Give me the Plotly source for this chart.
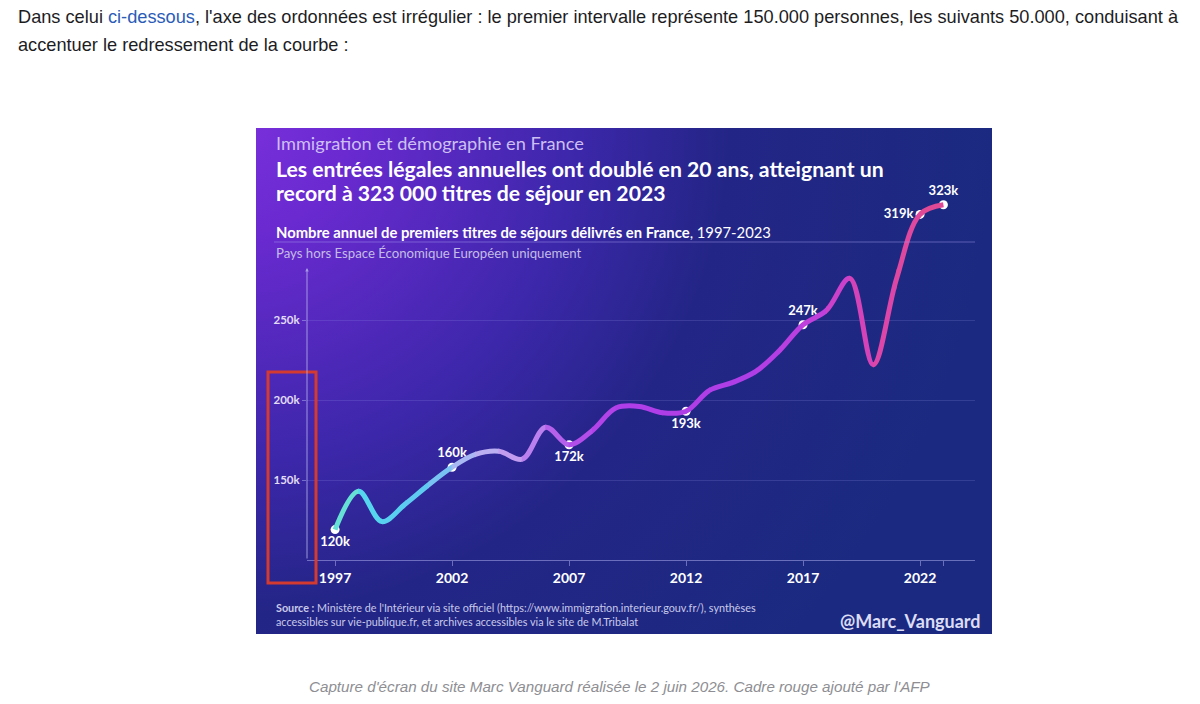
import plotly.graph_objects as go
from plotly.colors import sample_colorscale

# ---------------- data ----------------
years = [1997, 1998, 1999, 2000, 2001, 2002, 2003, 2004, 2005, 2006, 2007, 2008, 2009,
         2010, 2011, 2012, 2013, 2014, 2015, 2016, 2017, 2018, 2019, 2020, 2021, 2022, 2023]
values_k = [119, 143, 124, 135, 147, 158, 166, 168, 163, 183, 172, 181, 195,
            196, 192, 193, 206, 211, 218, 231, 247, 256, 276, 222, 276, 316, 322]
label_years = [1997, 2002, 2007, 2012, 2017, 2022, 2023]
label_texts = ["120k", "160k", "172k", "193k", "247k", "319k", "323k"]
label_pos = ["bottom center", "top center", "bottom center", "bottom center",
             "top center", "middle left", "top center"]
x_tick_years = [1997, 2002, 2007, 2012, 2017, 2022, 2023]
x_tick_text = ["1997", "2002", "2007", "2012", "2017", "2022", ""]
y_tick_vals = [150, 200, 250]
y_tick_text = ["150k", "200k", "250k"]

W, H = 1200, 704
def xp(px): return px / W
def yp(py): return 1 - py / H

# plot geometry (pixels)
AX_L, AX_R = 307, 975
AX_B, AX_T = 560, 180
Y_ARROW_TOP = 268
X_RANGE = [1995.80, 2024.35]
Y_RANGE = [100, 337.5]

fig = go.Figure()

# ---------- background panel with radial glow ----------
P_L, P_R, P_T, P_B = 256, 992, 128, 634
cx, cy, R = 235, 120, 760
fig.add_trace(go.Scatter(
    x=[cx - R, cx + R, cx + R, cx - R, cx - R],
    y=[cy - R, cy - R, cy + R, cy + R, cy - R],
    fill="toself", mode="lines", line=dict(width=0),
    fillgradient=dict(type="radial", colorscale=[
        [0.0, "#7a30dc"], [0.15, "#6a2ad0"], [0.45, "#3c27aa"],
        [0.65, "#232586"], [1.0, "#1b2a80"]]),
    hoverinfo="skip", showlegend=False, xaxis="x", yaxis="y"))

# ---------- gradient-coloured spline line (clipped per year band) ----------
stops = [(1997, "#6fe3c8"), (1998.5, "#55d6ee"), (2001, "#62c8f2"), (2002.5, "#a8b8f2"),
         (2004, "#c4aaf0"), (2005.5, "#bb80ee"), (2007, "#b452ea"), (2009, "#b03ee8"),
         (2015, "#b03ee6"), (2017.5, "#c040dc"), (2019, "#d042c0"), (2020.5, "#dc46a8"),
         (2023, "#e04a90")]
cs = [[(y - 1997) / 26, c] for y, c in stops]

def x2px(x):
    return AX_L + (x - X_RANGE[0]) / (X_RANGE[1] - X_RANGE[0]) * (AX_R - AX_L)

seg_axes = {}
n = len(years) - 1
for i in range(n):
    a = X_RANGE[0] if i == 0 else years[i]
    b = X_RANGE[1] if i == n - 1 else years[i + 1]
    eps = 0.02
    a2, b2 = a - eps, b + eps
    col = sample_colorscale(cs, [min(max(((years[i] + years[i + 1]) / 2 - 1997) / 26, 0), 1)])[0]
    k = i + 3
    seg_axes[f"xaxis{k}"] = dict(domain=[xp(x2px(a2)), xp(x2px(b2))], range=[a2, b2],
                                 visible=False, anchor="y3", fixedrange=True)
    fig.add_trace(go.Scatter(
        x=years, y=values_k, mode="lines",
        line=dict(shape="spline", smoothing=1.0, width=5, color=col),
        hoverinfo="skip", showlegend=False, xaxis=f"x{k}", yaxis="y3"))

# ---------- labelled points ----------
lab_vals = [values_k[years.index(y)] for y in label_years]
fig.add_trace(go.Scatter(
    x=label_years, y=lab_vals, mode="markers+text",
    marker=dict(size=9, color="white"),
    text=label_texts, textposition=label_pos,
    textfont=dict(family="Lato", size=13, color="white", weight="bold"),
    cliponaxis=False, hoverinfo="skip", showlegend=False, xaxis="x2", yaxis="y2"))

layout = dict(
    width=W, height=H, margin=dict(l=0, r=0, t=0, b=0),
    paper_bgcolor="white", plot_bgcolor="rgba(0,0,0,0)",
    showlegend=False,
    xaxis=dict(domain=[xp(P_L), xp(P_R)], range=[P_L, P_R], visible=False, fixedrange=True),
    yaxis=dict(domain=[yp(P_B), yp(P_T)], range=[P_B, P_T], visible=False, fixedrange=True),
    xaxis2=dict(domain=[xp(AX_L), xp(AX_R)], range=X_RANGE, anchor="y2",
                showline=True, linecolor="rgba(170,170,235,0.55)", linewidth=1,
                ticks="outside", ticklen=5, tickcolor="rgba(170,170,235,0.55)",
                tickvals=x_tick_years, ticktext=x_tick_text, showgrid=False, zeroline=False,
                tickfont=dict(family="Lato", size=14, color="white", weight="bold")),
    yaxis2=dict(domain=[yp(AX_B), yp(AX_T)], range=Y_RANGE, anchor="x2",
                tickvals=y_tick_vals, ticktext=y_tick_text, ticks="outside", ticklen=4,
                tickcolor="rgba(170,170,235,0.55)", showgrid=True,
                gridcolor="rgba(150,150,235,0.20)", gridwidth=1, zeroline=False, showline=False,
                tickfont=dict(family="Lato", size=11.5, color="#e2ddf5", weight="bold")),
    yaxis3=dict(domain=[yp(AX_B), yp(AX_T)], range=Y_RANGE, visible=False, anchor="x3",
                fixedrange=True),
)
layout.update(seg_axes)
fig.update_layout(**layout)

ann = []
# y axis with arrow
ann.append(dict(x=xp(AX_L), y=yp(Y_ARROW_TOP), xref="paper", yref="paper",
                ax=0, ay=AX_B - Y_ARROW_TOP, axref="pixel", ayref="pixel",
                showarrow=True, arrowhead=2, arrowsize=0.7, arrowwidth=1,
                arrowcolor="rgba(190,190,240,0.75)", text=""))

def txt(x, y, s, size, color, family="Lato", anchor="left", yanchor="middle"):
    ann.append(dict(x=xp(x), y=yp(y), xref="paper", yref="paper", text=s, showarrow=False,
                    xanchor=anchor, yanchor=yanchor,
                    font=dict(family=family, size=size, color=color), align="left"))

# page text
txt(16, 17, "Dans celui <span style=\"color:#2a5cb8\">ci-dessous</span>, l'axe des ordonnées est irrégulier : "
    "le premier intervalle représente 150.000 personnes, les suivants 50.000, conduisant à",
    18.2, "#1d1d1f", family="Liberation Sans")
txt(16, 45, "accentuer le redressement de la courbe :", 18.2, "#1d1d1f", family="Liberation Sans")
txt(620, 686, "<i>Capture d'écran du site Marc Vanguard réalisée le 2 juin 2026. Cadre rouge ajouté par l'AFP</i>",
    15.2, "#8e8e93", family="Liberation Sans", anchor="center")

# chart texts
txt(274, 143, "Immigration et démographie en France", 18.2, "#cdbff2")
txt(274, 168.5, "<b>Les entrées légales annuelles ont doublé en 20 ans, atteignant un</b>", 21.2, "white")
txt(274, 193, "<b>record à 323 000 titres de séjour en 2023</b>", 21.2, "white")
txt(274, 232, "<b>Nombre annuel de premiers titres de séjours délivrés en France</b>, 1997-2023", 14.8, "white")
txt(274, 253, "Pays hors Espace Économique Européen uniquement", 13.2, "#c4bce6")
txt(274, 614, "<b>Source :</b> Ministère de l'Intérieur via site officiel (https://www.immigration.interieur.gouv.fr/), synthèses"
    "<br>accessibles sur vie-publique.fr, et archives accessibles via le site de M.Tribalat", 10.8, "#c9c9ea")
txt(983, 621, "<b>@Marc_Vanguard</b>", 18, "#dcdcf5", anchor="right")
fig.update_layout(annotations=ann)

shapes = [
    dict(type="line", xref="paper", yref="paper", x0=xp(274), x1=xp(AX_R), y0=yp(242), y1=yp(242),
         line=dict(color="rgba(170,160,240,0.45)", width=1)),
    dict(type="rect", xref="paper", yref="paper", x0=xp(268), x1=xp(316), y0=yp(583), y1=yp(372),
         line=dict(color="#d43a2f", width=3)),
]
fig.update_layout(shapes=shapes)

fig.write_html("out.html", config={"displayModeBar": False},
               post_script="document.body.style.margin='0px';document.body.style.overflow='hidden';")
